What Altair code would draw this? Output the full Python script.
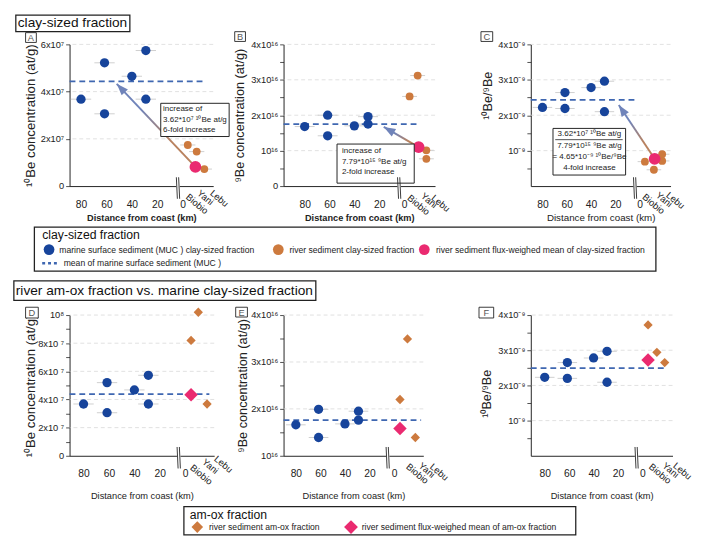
import math
import altair as alt
import pandas as pd

FONT = "Liberation Sans"
BLUE = "#17449b"
ORANGE = "#cd7a3e"
PINK = "#ea2a70"
MEANC = "#3f67b1"
ARROW_BLUE = "#7084ba"
ARROW_BROWN = "#b9825f"
GRID = "#d9d9d9"
ERR = "#cfcfcf"
INK = "#222222"

# ---------------- data ----------------
marine_km = [80, 61.5, 61.5, 40, 29, 29]
A_marine = [3.68e7, 5.22e7, 3.06e7, 4.65e7, 5.74e7, 3.68e7]
B_marine = [1.68e16, 2.00e16, 1.42e16, 1.70e16, 1.96e16, 1.75e16]
C_marine = [2.22e-9, 2.64e-9, 2.19e-9, 2.78e-9, 2.96e-9, 2.10e-9]
D_marine = [3.68e7, 5.20e7, 3.06e7, 4.68e7, 5.72e7, 3.68e7]
E_marine = [1.66e16, 1.99e16, 1.39e16, 1.68e16, 1.95e16, 1.76e16]
F_marine = [2.23e-9, 2.65e-9, 2.20e-9, 2.78e-9, 2.97e-9, 2.09e-9]
marine_means = [4.43e7, 1.75e16, 2.43e-9, 4.38e7, 1.76e16, 2.49e-9]

A_river_km = [-4, -11, -17]
A_river = [1.74e7, 1.46e7, 0.72e7]
A_flux = [-10, 0.81e7]
B_river_km = [-4.5, -11, -18, -18]
B_river = [2.53e16, 3.12e16, 1.01e16, 0.77e16]
B_flux = [-11.8, 1.10e16]
C_river_km = [-4.3, -11.7, -18.5, -18.5]
C_river = [0.69e-9, 0.46e-9, 0.90e-9, 0.71e-9]
C_flux = [-12.3, 0.77e-9]
D_river_km = [-4.6, -10.3, -17.2]
D_river = [8.2e7, 10.2e7, 3.68e7]
D_flux = [-4.6, 4.33e7]
E_river_km = [-4.8, -10.9, -17.3]
E_river = [2.2e16, 3.49e16, 1.39e16]
E_flux = [-4.8, 1.58e16]
F_river_km = [-4.6, -11.8, -18.2]
F_river = [3.72e-9, 2.94e-9, 2.65e-9]
F_flux = [-4.6, 2.72e-9]

x_ticks = [80, 60, 40, 20, 0]
river_names = ["Biobio", "Yani", "Lebu"]

ONE = pd.DataFrame({"k": [0]})
ARROW_PATH = "M0,0L1.1,3L-1.1,3Z"


def label_expr(majors):
    s = ""
    for v, lab in majors:
        tol = abs(v) * 1e-6 if v != 0 else 1e-30
        s += f"abs(datum.value - ({v!r})) <= {tol!r} ? '{lab}' : "
    return s + "''"


def vtext(x, y, s, size=8.8, align="left", baseline="middle", weight="normal", color=INK, angle=0):
    return alt.Chart(ONE).mark_text(text=s, fontSize=size, align=align, baseline=baseline,
                                    font=FONT, fontWeight=weight, color=color, angle=angle
                                    ).encode(x=alt.value(x), y=alt.value(y))


def vbox(x0, y0, x1, y1, sw=1.0, stroke=INK, fill="white"):
    return alt.Chart(ONE).mark_rect(fill=fill, stroke=stroke, strokeWidth=sw).encode(
        x=alt.value(x0), x2=alt.value(x1), y=alt.value(y0), y2=alt.value(y1))


def vsym(x, y, shape, color, size):
    return alt.Chart(ONE).mark_point(shape=shape, filled=True, opacity=1, color=color,
                                     size=size, strokeWidth=0).encode(x=alt.value(x), y=alt.value(y))


def vline(x0, y0, x1, y1, color, sw, dash=None):
    kw = dict(color=color, strokeWidth=sw)
    if dash:
        kw["strokeDash"] = dash
    return alt.Chart(ONE).mark_rule(**kw).encode(
        x=alt.value(x0), x2=alt.value(x1), y=alt.value(y0), y2=alt.value(y1))


def build_panel(p, extras=()):
    w, h = p["w"], p["h"]
    xd0, xd1 = p["xdom"]
    yd0, yd1 = p["ydom"]
    xs = alt.Scale(domain=p["xdom"], nice=False, zero=False)
    ys = alt.Scale(domain=p["ydom"], nice=False, zero=False)

    xaxis = alt.Axis(values=x_ticks, format="d", grid=False, ticks=False, tickSize=0,
                     labelPadding=p["xlabpad"], labelFontSize=10.5, labelFont=FONT, labelColor=INK,
                     labelFlush=False, labelOverlap=False,
                     domainColor=INK, domainWidth=1,
                     title="Distance from coast (km)", titleFont=FONT, titleFontSize=p["xtsize"],
                     titleFontWeight=p["xtweight"], titleColor=INK, titleY=p["xtitle_y"],
                     titleBaseline="middle")
    yvals = sorted([v for v, _ in p["ymajor"]] + p["yminor"])
    ykw = dict(values=yvals, labelExpr=label_expr(p["ymajor"]), grid=False, tickSize=4,
               tickColor=INK, tickWidth=0.8, labelPadding=2, labelFontSize=9.5, labelFont=FONT,
               labelColor=INK, labelFlush=False, labelOverlap=False,
               domainColor=INK, domainWidth=1,
               title=p["ytitle"], titleFont=FONT, titleFontSize=p["ytsize"],
               titleFontWeight="normal", titleColor=INK, titleX=p["ytitle_x"],
               titleBaseline="middle")
    if "ytitle_y" in p:
        ykw["titleY"] = p["ytitle_y"]
    yaxis = alt.Axis(**ykw)

    # same axis definition on every layer so that the shared axes merge cleanly
    def X(field):
        return alt.X(f"{field}:Q", scale=xs, axis=xaxis)

    def Y(field):
        return alt.Y(f"{field}:Q", scale=ys, axis=yaxis)

    layers = []
    # gridlines
    gdf = pd.DataFrame({"y": [v for v, _ in p["ymajor"] if v > yd0]})
    layers.append(alt.Chart(gdf).mark_rule(color=GRID, strokeDash=[4, 3], strokeWidth=0.8)
                  .encode(y=Y("y")))
    # error bars
    mdf = pd.DataFrame({"km": marine_km, "v": p["marine"]})
    mdf["lo"] = mdf["km"] + 8
    mdf["hi"] = mdf["km"] - 8
    layers.append(alt.Chart(mdf).mark_rule(color=ERR, strokeWidth=1)
                  .encode(x=X("lo"), x2=alt.X2("hi"), y=Y("v")))
    rdf = pd.DataFrame({"km": p["river_km"], "v": p["river"]})
    if p["rshape"] == "circle":
        rdf["lo"] = rdf["km"] + 6
        rdf["hi"] = rdf["km"] - 6
        layers.append(alt.Chart(rdf).mark_rule(color=ERR, strokeWidth=1)
                      .encode(x=X("lo"), x2=alt.X2("hi"), y=Y("v")))
    # mean line
    mean_df = pd.DataFrame({"x0": [xd0], "x1": [p["mean_end"]], "m": [p["mean"]]})
    layers.append(alt.Chart(mean_df).mark_rule(color=MEANC, strokeDash=[6, 4], strokeWidth=1.8)
                  .encode(x=X("x0"), x2=alt.X2("x1"), y=Y("m")))
    # arrow line
    if "tip" in p:
        adf = pd.DataFrame({"km": [p["flux"][0], p["tip"][0]], "v": [p["flux"][1], p["tip"][1]],
                            "i": [0, 1]})
        grad = alt.LinearGradient(gradient="linear",
                                  stops=[alt.GradientStop(color=ARROW_BROWN, offset=0),
                                         alt.GradientStop(color=ARROW_BROWN, offset=0.3),
                                         alt.GradientStop(color=ARROW_BLUE, offset=0.7),
                                         alt.GradientStop(color=ARROW_BLUE, offset=1)],
                                  x1=1, y1=1, x2=0, y2=0)
        layers.append(alt.Chart(adf).mark_line(stroke=grad, strokeWidth=2)
                      .encode(x=X("km"), y=Y("v"), order=alt.Order("i:Q")))
    # marine points
    layers.append(alt.Chart(mdf).mark_circle(color=BLUE, size=90, opacity=1)
                  .encode(x=X("km"), y=Y("v")))
    # river points
    layers.append(alt.Chart(rdf).mark_point(shape=p["rshape"], filled=True, color=ORANGE,
                                            size=p["rsize"], opacity=1, strokeWidth=0)
                  .encode(x=X("km"), y=Y("v")))
    fdf = pd.DataFrame({"km": [p["flux"][0]], "v": [p["flux"][1]]})
    layers.append(alt.Chart(fdf).mark_point(shape=p["rshape"], filled=True, color=PINK,
                                            size=p["psize"], opacity=1, strokeWidth=0)
                  .encode(x=X("km"), y=Y("v")))
    # arrow head
    if "tip" in p:
        def xpx(km):
            return (km - xd0) / (xd1 - xd0) * w

        def ypx(v):
            return h - (v - yd0) / (yd1 - yd0) * h
        dx = xpx(p["tip"][0]) - xpx(p["flux"][0])
        dy = ypx(p["tip"][1]) - ypx(p["flux"][1])
        ang = math.degrees(math.atan2(dx, -dy)) % 360
        tdf = pd.DataFrame({"km": [p["tip"][0]], "v": [p["tip"][1]]})
        layers.append(alt.Chart(tdf).mark_point(shape=ARROW_PATH, filled=True, color=ARROW_BLUE,
                                                size=64, angle=ang, opacity=1, strokeWidth=0)
                      .encode(x=X("km"), y=Y("v")))
    # annotation box
    if "box" in p:
        layers.append(vbox(*p["box"], sw=1.0))
        for (tx, ty, s, al) in p["box_lines"]:
            layers.append(vtext(tx, ty, s, size=8.2, align=al))
        if "box_sep" in p:
            layers.append(vline(*p["box_sep"], color=INK, sw=0.8))
    # axis break
    bk = p["brk"]
    wdf = pd.DataFrame({"a": [bk + 1.4], "b": [bk - 1.4]})
    layers.append(alt.Chart(wdf).mark_rule(color="white", strokeWidth=3)
                  .encode(x=X("a"), x2=alt.X2("b"), y=alt.value(h)))
    bdf = pd.DataFrame({"xt": [bk + 1.3, bk - 0.5], "xb": [bk + 0.5, bk - 1.3]})
    layers.append(alt.Chart(bdf).mark_rule(color=INK, strokeWidth=0.9)
                  .encode(x=X("xt"), x2=alt.X2("xb"), y=alt.value(h - 9), y2=alt.value(h + 13)))
    # river labels
    for name, km, dy in p["labels"]:
        ldf = pd.DataFrame({"km": [km], "t": [name]})
        layers.append(alt.Chart(ldf).mark_text(angle=40, align="left", baseline="middle",
                                               fontSize=9.5, font=FONT, color=INK)
                      .encode(x=X("km"), y=alt.value(h + dy), text="t:N"))
    # panel letter
    x0, y0, x1, y1 = p["labbox"]
    layers.append(vbox(x0, y0, x1, y1, sw=0.9))
    layers.append(vtext((x0 + x1) / 2, (y0 + y1) / 2 + 0.5, p["letter"], size=9.5,
                        align="center", color="#555555"))
    layers.extend(extras)
    return alt.layer(*layers).properties(width=w, height=h)


def spacer(w, h):
    return alt.Chart(ONE).mark_point(opacity=0).encode(
        x=alt.X("k:Q", axis=None), y=alt.Y("k:Q", axis=None)).properties(width=w, height=h)


sup_conc7 = [(0, "0"), (2e7, "2x10⁷"), (4e7, "4x10⁷"), (6e7, "6x10⁷")]
sup_conc16 = [(0, "0"), (1e16, "10¹⁶"), (2e16, "2x10¹⁶"), (3e16, "3x10¹⁶"), (4e16, "4x10¹⁶")]
sup_ratio = [(1e-9, "10⁻⁹"), (2e-9, "2x10⁻⁹"), (3e-9, "3x10⁻⁹"), (4e-9, "4x10⁻⁹")]
sup_conc8 = [(0, "0"), (2e7, "2x10 ⁷"), (4e7, "4x10 ⁷"), (6e7, "6x10 ⁷"), (8e7, "8x10 ⁷"), (1e8, "10⁸")]
sup_conc16b = [(1e16, "10¹⁶"), (2e16, "2x10¹⁶"), (3e16, "3x10¹⁶"), (4e16, "4x10¹⁶")]

PA = dict(letter="A", w=147, h=145, xdom=[89, -24], ydom=[0, 6e7], ymajor=sup_conc7, yminor=[],
          ytitle="¹⁰Be concentration (at/g)", ytsize=13.5, ytitle_x=-40,
          xtsize=9.4, xtweight="bold", xtitle_y=32, xlabpad=14,
          marine=A_marine, mean=marine_means[0], mean_end=-18.6,
          rshape="circle", rsize=64, psize=144, river_km=A_river_km, river=A_river, flux=A_flux,
          tip=[51.9, 4.33e7],
          box=(93.3, 60.3, 163.3, 94.3),
          box_lines=[(95.7, 66.3, "increase of", "left"),
                     (95.7, 77, "3.62*10⁷ ¹⁰Be at/g", "left"),
                     (95.7, 87.7, "6-fold increase", "left")],
          labels=[("Biobio", -3.4, 10), ("Yani", -12.4, 6), ("Lebu", -22.5, 6)],
          brk=3.7, labbox=(-45, -12, -34, -2))
PB = dict(letter="B", w=155, h=145, xdom=[97, -25], ydom=[0, 4e16], ymajor=sup_conc16,
          yminor=[5e15, 1.5e16, 2.5e16, 3.5e16],
          ytitle="⁹Be concentration (at/g)", ytsize=13, ytitle_x=-45,
          xtsize=9.4, xtweight="bold", xtitle_y=32, xlabpad=14,
          marine=B_marine, mean=marine_means[1], mean_end=-11,
          rshape="circle", rsize=64, psize=144, river_km=B_river_km, river=B_river, flux=B_flux,
          tip=[16.3, 1.67e16],
          box=(54.7, 102, 133.7, 142),
          box_lines=[(59.7, 109.3, "increase of", "left"),
                     (59.7, 120.3, "7.79*10¹⁵ ⁹Be at/g", "left"),
                     (59.7, 131, "2-fold increase", "left")],
          labels=[("Biobio", -3.7, 11), ("Yani", -14.6, 9), ("Lebu", -23.1, 11)],
          brk=3.9, labbox=(-50, -13, -39, -3))
PC = dict(letter="C", w=143, h=145, xdom=[89.6, -25.4], ydom=[0, 4e-9], ymajor=sup_ratio,
          yminor=[5e-10, 1.5e-9, 2.5e-9, 3.5e-9],
          ytitle="¹⁰Be/⁹Be", ytsize=13, ytitle_x=-44, ytitle_y=52,
          xtsize=10, xtweight="normal", xtitle_y=32, xlabpad=14,
          marine=C_marine, mean=marine_means[2], mean_end=2.2,
          rshape="circle", rsize=64, psize=144, river_km=C_river_km, river=C_river, flux=C_flux,
          tip=[17.2, 2.29e-9],
          box=(22.7, 86, 97, 133.7),
          box_lines=[(60, 92, "3.62*10⁷ ¹⁰Be at/g", "center"),
                     (60, 103.7, "7.79*10¹⁵ ⁹Be at/g", "center"),
                     (60, 115.3, "= 4.65*10⁻⁹ ¹⁰Be/⁹Be", "center"),
                     (60, 127, "4-fold increase", "center")],
          box_sep=(25, 97.5, 94, 97.5),
          labels=[("Biobio", -3.2, 10), ("Yani", -14.4, 8), ("Lebu", -22.9, 8)],
          brk=3.8, labbox=(-51, -13, -39, -3))
PD = dict(letter="D", w=148, h=144, xdom=[91, -22.8], ydom=[0, 1e8], ymajor=sup_conc8,
          yminor=[1e7, 3e7, 5e7, 7e7, 9e7],
          ytitle="¹⁰Be concentration (at/g)", ytsize=13.5, ytitle_x=-40,
          xtsize=9.5, xtweight="normal", xtitle_y=41, xlabpad=13,
          marine=D_marine, mean=marine_means[3], mean_end=-19,
          rshape="diamond", rsize=90, psize=190, river_km=D_river_km, river=D_river, flux=D_flux,
          labels=[("Biobio", -4.9, 11), ("Yani", -14.3, 5), ("Lebu", -23.8, 2)],
          brk=5.1, labbox=(-45, -8, -32, 3))
PE = dict(letter="E", w=143, h=144, xdom=[90, -23.8], ydom=[1e16, 4e16], ymajor=sup_conc16b,
          yminor=[1.5e16, 2.5e16, 3.5e16],
          ytitle="⁹Be concentration (at/g)", ytsize=13, ytitle_x=-42,
          xtsize=9.5, xtweight="normal", xtitle_y=41, xlabpad=13,
          marine=E_marine, mean=marine_means[4], mean_end=-22,
          rshape="diamond", rsize=90, psize=190, river_km=E_river_km, river=E_river, flux=E_flux,
          labels=[("Biobio", -10.8, 10), ("Yani", -21, 9), ("Lebu", -30.2, 10)],
          brk=5.2, labbox=(-49, -8, -37, 2))
PF = dict(letter="F", w=145, h=144, xdom=[91.4, -24.6], ydom=[0, 4e-9], ymajor=sup_ratio,
          yminor=[5e-10, 1.5e-9, 2.5e-9, 3.5e-9],
          ytitle="¹⁰Be/⁹Be", ytsize=13, ytitle_x=-45, ytitle_y=80,
          xtsize=9.5, xtweight="normal", xtitle_y=41, xlabpad=13,
          marine=F_marine, mean=marine_means[5], mean_end=-19,
          rshape="diamond", rsize=90, psize=190, river_km=F_river_km, river=F_river, flux=F_flux,
          labels=[("Biobio", -6.2, 10), ("Yani", -17.4, 9), ("Lebu", -26.2, 9)],
          brk=4.8, labbox=(-53, -8, -38, 3))

extras_A = [
    vbox(-55, -30, 61.7, -13, sw=1.3),
    vtext(-53, -21.3, "clay-sized fraction", size=14, color="#111111"),
    vbox(-36, 187, 600, 232, sw=1.3),
    vtext(-28, 195, "clay-sized fraction", size=12.5, color="#111111"),
    vsym(-21, 210, "circle", BLUE, 120),
    vtext(-10.5, 210, "marine surface sediment (MUC ) clay-sized fraction", size=8.8),
    vsym(213.6, 210, "circle", ORANGE, 120),
    vtext(225, 210, "river sediment clay-sized fraction", size=8.8),
    vsym(363, 210, "circle", PINK, 120),
    vtext(375, 210, "river sediment flux-weighed mean of  clay-sized fraction", size=8.8),
    vline(-28, 224, -10, 224, MEANC, 2.5, dash=[3, 3]),
    vtext(-6, 224, "mean of marine surface sediment (MUC )", size=8.8),
]
extras_D = [
    vbox(-57, -35, 252, -15, sw=1.3),
    vtext(-55, -25, "river am-ox fraction vs. marine clay-sized fraction", size=14, color="#111111"),
    vbox(117, 196, 518, 225, sw=1.3),
    vtext(123, 204.5, "am-ox fraction", size=12.5, color="#111111"),
    vsym(130.7, 217, "diamond", ORANGE, 140),
    vtext(142.7, 217, "river sediment  am-ox fraction", size=8.8),
    vsym(288, 217, "diamond", PINK, 200),
    vtext(299, 217, "river sediment flux-weighed mean of am-ox fraction", size=8.8),
]

pA = build_panel(PA, extras_A)
pB = build_panel(PB)
pC = build_panel(PC)
pD = build_panel(PD, extras_D)
pE = build_panel(PE)
pF = build_panel(PF)

chart = alt.concat(
    pA, spacer(60, 145), pB, spacer(77, 145), pC,
    pD, spacer(61, 144), pE, spacer(88, 144), pF,
    columns=5, spacing={"row": 132, "column": 5}, bounds="flush", align="none",
).properties(
    padding={"left": 5, "top": 0, "right": 0, "bottom": 0}, background="white"
).configure_view(stroke=None)

chart.save("out.html", embed_options={"renderer": "svg", "actions": False})
